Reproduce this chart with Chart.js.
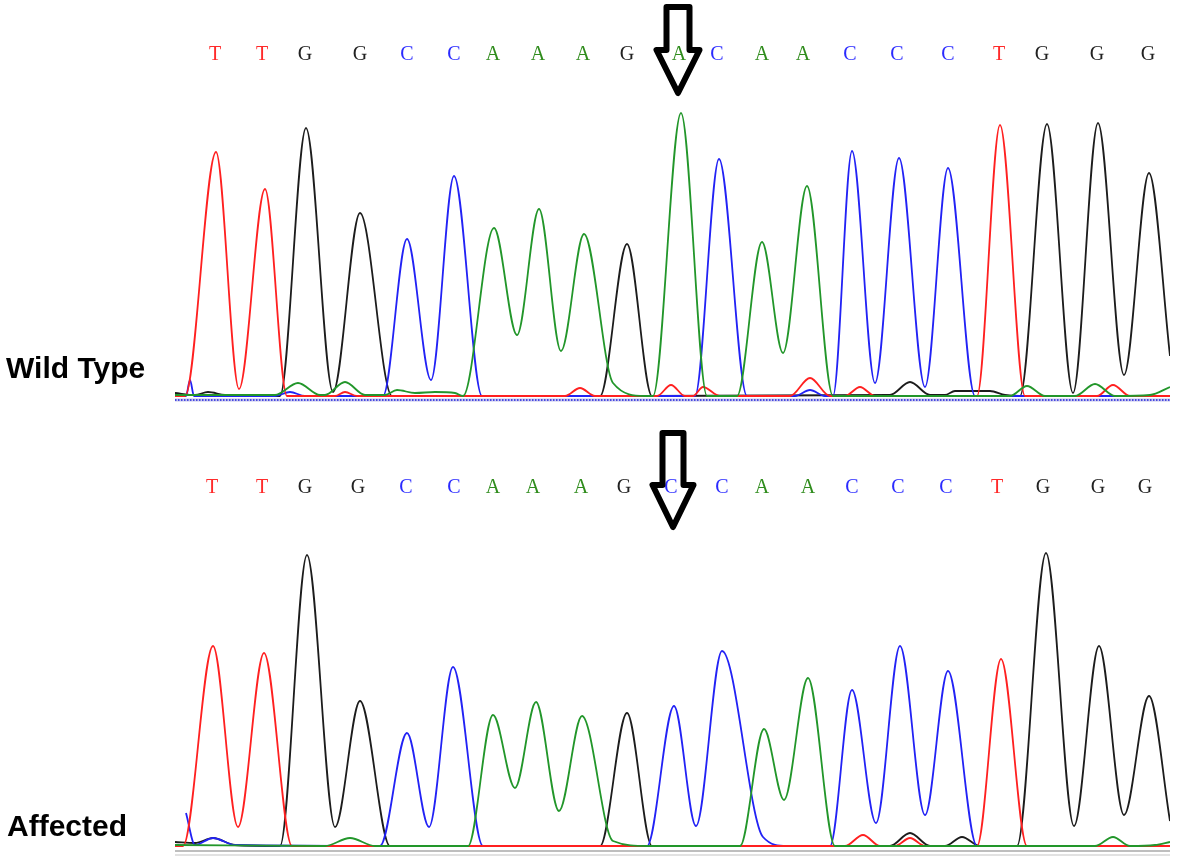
<!DOCTYPE html>
<html>
<head>
<meta charset="utf-8">
<title>Chromatogram · Wild Type vs Affected</title>
<script src="https://cdn.jsdelivr.net/npm/chart.js@4.4.1/dist/chart.umd.min.js"></script>
<style>
  html, body { margin: 0; background: #fff; }
  #wrap { position: relative; width: 1181px; height: 866px; overflow: hidden; }
  #wrap canvas { position: absolute; left: 0; }
</style>
</head>
<body>
<div id="wrap">
  <canvas id="wt" width="1181" height="420" style="top:0"></canvas>
  <canvas id="af" width="1181" height="446" style="top:420px"></canvas>
</div>
<script>
'use strict';

/* ──────────────────────────────────────────
   Data — scan position / signal intensity
   ────────────────────────────────────────── */
const wtSeq = ['T','T','G','G','C','C','A','A','A','G','A','C','A','A','C','C','C','T','G','G','G'];
const wtPos = [40, 87, 130, 185, 232, 279, 318, 363, 408, 452, 504, 542, 587, 628, 675, 722, 773, 824, 867, 922, 973];

const afSeq = ['T','T','G','G','C','C','A','A','A','G','C','C','A','A','C','C','C','T','G','G','G'];
const afPos = [37, 87, 130, 183, 231, 279, 318, 358, 406, 449, 496, 547, 587, 633, 677, 723, 771, 822, 868, 923, 970];

const variantIdx = 10;   // A > C

// wild type traces
const wtT = [[0,5],[10,5],[41,1225],[64,40],[90,1040],[112,5],[160,5],[170,25],[182,5],[390,5],[405,45],[420,5],
             [482,5],[496,60],[510,5],[518,5],[528,50],[545,5],[615,5],[635,95],[655,5],[670,5],[685,50],[700,5],
             [802,5],[825,1360],[850,5],[922,5],[938,60],[955,5],[995,5]];
const wtG = [[0,20],[20,10],[33,25],[50,10],[105,5],[131,1345],[158,25],[185,920],[217,5],[425,5],[452,765],[477,5],
             [715,10],[735,75],[755,10],[770,10],[780,30],[815,30],[830,10],[845,5],[872,1365],[898,20],[923,1370],
             [949,110],[974,1120],[995,205]];
const wtC = [[0,5],[11,5],[15,85],[19,5],[100,5],[115,25],[130,5],[208,5],[232,790],[256,85],[279,1105],[307,5],
             [520,5],[544,1190],[572,5],[620,5],[635,35],[650,5],[658,5],[677,1230],[700,70],[724,1195],[750,50],
             [773,1145],[800,5],[995,5]];
const wtA = [[0,10],[100,10],[123,70],[145,10],[150,10],[170,75],[190,10],[210,10],[222,35],[240,20],[260,25],[280,20],
             [288,5],[319,845],[342,310],[364,940],[386,230],[409,815],[438,70],[470,5],[478,5],[506,1420],[532,5],
             [562,5],[587,775],[608,220],[632,1055],[658,5],[835,5],[852,55],[870,5],[900,5],[920,65],[940,5],
             [975,10],[995,50]];

// affected traces
const afT = [[0,5],[8,5],[38,1005],[63,100],[89,970],[117,5],[670,5],[688,60],[705,5],[720,5],[735,45],[750,5],
             [802,5],[826,940],[852,5],[995,5]];
const afG = [[0,25],[20,20],[38,45],[60,10],[105,5],[132,1460],[160,100],[185,730],[215,5],[425,5],[452,670],[477,5],
             [715,5],[735,70],[755,5],[770,5],[787,50],[805,5],[842,5],[871,1470],[899,105],[924,1005],[949,160],
             [974,755],[995,130]];
const afC = [[11,170],[20,10],[38,45],[60,10],[205,5],[232,570],[254,100],[278,900],[308,5],[472,5],[499,705],
             [521,105],[547,980],[588,50],[612,5],[655,5],[677,785],[701,120],[725,1005],[750,160],[773,880],
             [802,5],[995,5]];
const afA = [[0,10],[150,5],[175,45],[200,5],[293,5],[318,660],[340,295],[361,725],[384,180],[407,655],[438,30],
             [473,5],[565,5],[589,590],[609,235],[633,845],[660,5],[920,5],[938,50],[955,5],[980,10],[995,25]];

/* ──────────────────────────────────────────
   Styles
   ────────────────────────────────────────── */
const TRACE = { A: '#22962a', C: '#2222f5', G: '#1c1c1c', T: '#ff2020' };
const CALL  = { A: '#2f8c1c', C: '#2a2aff', G: '#222222', T: '#ff2a2a' };

/* decorations: base calls, arrow, label, baseline */
function makeDecor(p) {
  return {
    id: 'decor_' + p.label,
    beforeDatasetsDraw(chart) {
      const { ctx, chartArea } = chart;
      ctx.save();
      if (p.dotted) {
        ctx.strokeStyle = '#c6c6ee'; ctx.lineWidth = 3;
        ctx.beginPath(); ctx.moveTo(chartArea.left, p.lineY); ctx.lineTo(chartArea.right, p.lineY); ctx.stroke();
        ctx.strokeStyle = '#4a4ae0'; ctx.lineWidth = 2; ctx.setLineDash([1.5, 1.5]);
        ctx.beginPath(); ctx.moveTo(chartArea.left, p.lineY); ctx.lineTo(chartArea.right, p.lineY); ctx.stroke();
      } else {
        ctx.strokeStyle = '#a8a8a8'; ctx.lineWidth = 1.5;
        ctx.beginPath(); ctx.moveTo(chartArea.left, p.lineY); ctx.lineTo(chartArea.right, p.lineY); ctx.stroke();
        ctx.strokeStyle = '#e2e2e2'; ctx.lineWidth = 2;
        ctx.beginPath(); ctx.moveTo(chartArea.left, p.lineY + 4); ctx.lineTo(chartArea.right, p.lineY + 4); ctx.stroke();
      }
      ctx.restore();
    },
    afterDraw(chart) {
      const { ctx } = chart;
      const x = chart.scales.x;
      ctx.save();

      ctx.font = '20px "Liberation Serif", "Times New Roman", serif';
      ctx.textAlign = 'center';
      ctx.textBaseline = 'middle';
      p.seq.forEach((b, i) => {
        ctx.fillStyle = CALL[b];
        ctx.fillText(b, x.getPixelForValue(p.pos[i]), p.letterY);
      });

      // hollow arrow over the variant
      const a = p.arrow;
      const cx = x.getPixelForValue(p.pos[variantIdx]) + a.dx;
      ctx.strokeStyle = '#000'; ctx.lineWidth = 6; ctx.lineJoin = 'round';
      ctx.beginPath();
      ctx.moveTo(cx - a.shaft, a.top);
      ctx.lineTo(cx + a.shaft, a.top);
      ctx.lineTo(cx + a.shaft, a.head);
      ctx.lineTo(cx + a.wing, a.head);
      ctx.lineTo(cx, a.tip);
      ctx.lineTo(cx - a.wing, a.head);
      ctx.lineTo(cx - a.shaft, a.head);
      ctx.closePath();
      ctx.stroke();

      ctx.fillStyle = '#000';
      ctx.font = 'bold 30px "Liberation Sans", Arial, sans-serif';
      ctx.textAlign = 'left';
      ctx.textBaseline = 'alphabetic';
      ctx.fillText(p.label, p.labelX, p.labelY);
      ctx.restore();
    }
  };
}

function traceSet(pts, base) {
  return {
    data: pts.map(([x, y]) => ({ x, y })),
    borderColor: TRACE[base],
    borderWidth: 1.8,
    pointRadius: 0,
    fill: false,
    cubicInterpolationMode: 'monotone',
    tension: 0.4
  };
}

function buildPanel(id, traces, pad, decor) {
  new Chart(document.getElementById(id), {
    type: 'line',
    data: {
      datasets: [
        traceSet(traces.A, 'A'),
        traceSet(traces.T, 'T'),
        traceSet(traces.C, 'C'),
        traceSet(traces.G, 'G')
      ]
    },
    options: {
      responsive: false,
      devicePixelRatio: 1,
      animation: false,
      events: [],
      layout: { padding: pad },
      plugins: { legend: { display: false }, tooltip: { enabled: false } },
      scales: {
        x: { type: 'linear', min: 0, max: 995, display: false },
        y: { min: 0, max: 1500, display: false }
      }
    },
    plugins: [makeDecor(decor)]
  });
}

buildPanel('wt', { A: wtA, C: wtC, G: wtG, T: wtT },
  { left: 175, right: 11, top: 97, bottom: 23 },
  { label: 'Wild Type', labelX: 6, labelY: 378, seq: wtSeq, pos: wtPos, letterY: 55, lineY: 400, dotted: true,
    arrow: { dx: -1, top: 7, head: 50, tip: 93, shaft: 11.5, wing: 21.5 } });

buildPanel('af', { A: afA, C: afC, G: afG, T: afT },
  { left: 175, right: 11, top: 127, bottom: 19 },
  { label: 'Affected', labelX: 7, labelY: 416, seq: afSeq, pos: afPos, letterY: 68, lineY: 431, dotted: false,
    arrow: { dx: 2, top: 13, head: 65, tip: 107, shaft: 10.5, wing: 20.5 } });
</script>
</body>
</html>
